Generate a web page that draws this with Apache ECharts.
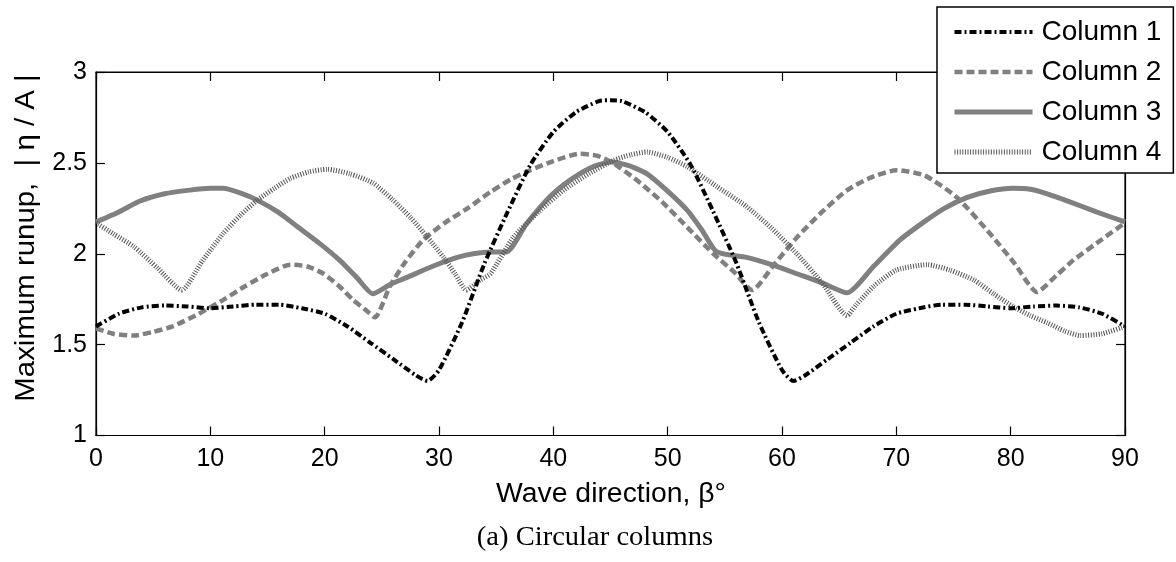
<!DOCTYPE html>
<html>
<head>
<meta charset="utf-8">
<script src="https://cdn.jsdelivr.net/npm/echarts@6/dist/echarts.min.js"></script>
<style>
html,body{margin:0;padding:0;background:#fff;}
#chart{width:1176px;height:562px;}
</style>
</head>
<body>
<div id="chart"></div>
<script>
// Data: [beta (deg), |eta/A|]
const seriesNames = ['Column 1', 'Column 2', 'Column 3', 'Column 4'];
const xTicks = [0, 10, 20, 30, 40, 50, 60, 70, 80, 90];
const yTicks = [1, 1.5, 2, 2.5, 3];

const column1 = [
  [0,1.60],[2,1.67],[4,1.705],[6,1.715],[8,1.71],[10,1.70],[12,1.71],[14,1.72],[16,1.72],
  [18,1.70],[20,1.67],[22,1.60],[24,1.51],[26,1.42],[28,1.33],[29,1.30],[30,1.36],[32,1.62],
  [34,1.95],[36,2.23],[38,2.49],[40,2.67],[42,2.78],[44,2.84],[45,2.845],[46,2.84],[48,2.78],
  [50,2.67],[52,2.49],[54,2.23],[56,1.95],[58,1.62],[60,1.36],[61,1.30],[62,1.33],[64,1.42],
  [66,1.51],[68,1.60],[70,1.67],[72,1.70],[74,1.72],[76,1.72],[78,1.71],[80,1.70],[82,1.71],
  [84,1.715],[86,1.705],[88,1.67],[90,1.60]
];
const column2 = [
  [0,1.59],[1.5,1.56],[3.3,1.55],[5,1.57],[6.7,1.60],[9,1.67],[11.1,1.745],[13,1.82],[15,1.89],
  [17,1.94],[18.5,1.93],[19.9,1.89],[21.3,1.82],[22.5,1.745],[23.6,1.69],[24.4,1.65],[25.7,1.82],
  [27,1.95],[28.6,2.075],[30.5,2.17],[32.5,2.25],[34.5,2.34],[36.3,2.41],[38,2.46],[40,2.51],
  [42.3,2.55],[43.8,2.54],[45.2,2.50],[47.4,2.40],[49.6,2.28],[51.8,2.14],[54,2.0],[55.8,1.90],
  [57.4,1.80],[59.3,1.94],[61.3,2.09],[63.5,2.23],[65.7,2.35],[67.8,2.42],[70,2.46],[72.5,2.43],
  [75.3,2.31],[78.2,2.11],[80.3,1.95],[82.3,1.79],[84,1.88],[85.5,1.965],[88,2.08],[90,2.17]
];
const column3 = [
  [0,2.175],[2,2.23],[3.85,2.29],[6,2.33],[8.2,2.35],[10,2.36],[11.1,2.36],[12.6,2.335],[14.1,2.295],
  [15.9,2.23],[17.6,2.15],[19.5,2.06],[21.3,1.965],[22.8,1.87],[24.2,1.78],[25.7,1.83],[27.2,1.87],
  [29.4,1.93],[31.6,1.98],[33,2.0],[34.5,2.01],[35.9,2.01],[37.6,2.16],[39.4,2.295],[40.9,2.38],
  [42.3,2.44],[43.7,2.485],[45.1,2.505],[46.6,2.485],[48.2,2.44],[49.9,2.35],[51.7,2.24],[53,2.13],
  [54.3,2.01],[56.9,1.98],[59.1,1.94],[61.3,1.89],[63.5,1.84],[65.7,1.785],[68,1.93],[70.3,2.075],
  [72.3,2.17],[74.2,2.25],[76.2,2.31],[78.2,2.345],[80.2,2.36],[81.7,2.355],[83.2,2.33],[85,2.29],
  [87.5,2.23],[90,2.175]
];
const column4 = [
  [0,2.17],[1.5,2.11],[3.3,2.04],[5.4,1.92],[7.5,1.80],[9.3,1.96],[11.1,2.11],[12.6,2.21],
  [14.1,2.295],[15.6,2.36],[17,2.415],[18.6,2.45],[20.2,2.465],[22.2,2.44],[24.2,2.39],[25.9,2.30],
  [27.5,2.20],[29,2.09],[30.4,1.98],[31.4,1.89],[32.4,1.80],[33.6,1.855],[34.5,1.89],[36.5,2.09],
  [38.7,2.23],[40.9,2.35],[43.1,2.44],[45.3,2.515],[46.8,2.545],[48.2,2.56],[50,2.53],[51.7,2.48],
  [54.3,2.37],[56.9,2.26],[59.1,2.14],[61.3,2.0],[63.5,1.84],[65.7,1.66],[66.5,1.72],[68,1.82],
  [70,1.91],[72.7,1.94],[74.7,1.91],[76.8,1.855],[78.5,1.78],[80.2,1.71],[81.7,1.66],[83.2,1.62],
  [84.7,1.575],[86.1,1.55],[88,1.56],[90,1.60]
];

const styles = [
  {color: '#000', width: 4, type: [7, 3, 2, 3]},
  {color: '#808080', width: 4.5, type: [8, 4]},
  {color: '#808080', width: 5, type: 'solid'},
  {color: '#555', width: 5, type: [1, 1.6]}
];

const chart = echarts.init(document.getElementById('chart'), null, {renderer: 'canvas'});
const tickFont = {fontFamily: 'Liberation Sans, Arial, sans-serif', fontSize: 25, color: '#000'};
const axisLineStyle = {color: '#000', width: 1.2};

const option = {
  backgroundColor: '#fff',
  animation: false,
  grid: {left: 96, right: 51, top: 72, bottom: 126.5, show: true, borderColor: '#000', borderWidth: 1.2, backgroundColor: 'transparent'},
  legend: {
    data: seriesNames.map((n, i) => ({name: n, lineStyle: Object.assign({}, styles[i])})),
    orient: 'vertical',
    left: 937, top: 7,
    padding: [11, 12, 7, 15],
    itemWidth: 78, itemHeight: 14, itemGap: 12,
    itemStyle: {opacity: 0},
    backgroundColor: '#fff',
    borderColor: '#000', borderWidth: 1.5,
    textStyle: {fontFamily: 'Liberation Sans, Arial, sans-serif', fontSize: 28, color: '#000', lineHeight: 28, padding: [0,0,0,4]},
    z: 10
  },
  xAxis: [{
    type: 'value', min: 0, max: 90, interval: 10,
    axisLine: {show: true, onZero: false, lineStyle: axisLineStyle},
    axisTick: {show: true, inside: true, length: 9, lineStyle: axisLineStyle},
    axisLabel: Object.assign({margin: 11, formatter: v => xTicks.includes(v) ? String(v) : ''}, tickFont),
    splitLine: {show: false}
  }, {
    type: 'value', min: 0, max: 90, interval: 10, position: 'top',
    axisLine: {show: true, onZero: false, lineStyle: axisLineStyle},
    axisTick: {show: true, inside: true, length: 9, lineStyle: axisLineStyle},
    axisLabel: {show: false}, splitLine: {show: false}
  }],
  yAxis: [{
    type: 'value', min: 1, max: 3, interval: 0.5,
    axisLine: {show: true, onZero: false, lineStyle: axisLineStyle},
    axisTick: {show: true, inside: true, length: 9, lineStyle: axisLineStyle},
    axisLabel: Object.assign({margin: 9, formatter: v => yTicks.includes(v) ? String(v) : ''}, tickFont),
    splitLine: {show: false}
  }, {
    type: 'value', min: 1, max: 3, interval: 0.5, position: 'right',
    axisLine: {show: true, onZero: false, lineStyle: axisLineStyle},
    axisTick: {show: true, inside: true, length: 9, lineStyle: axisLineStyle},
    axisLabel: {show: false}, splitLine: {show: false}
  }],
  graphic: [
    {type: 'text', x: 611, y: 495, scaleX: 1.05, style: {text: 'Wave direction, β°', font: '27px "Liberation Sans", Arial, sans-serif', fill: '#000', align: 'center', verticalAlign: 'middle'}},
    {type: 'text', x: 595, y: 538, scaleX: 1.02, style: {text: '(a) Circular columns', font: '28px "Liberation Serif", "DejaVu Serif", serif', fill: '#000', align: 'center', verticalAlign: 'middle'}},
    {type: 'text', x: 26, y: 238, rotation: Math.PI / 2, scaleX: 1.05, style: {text: 'Maximum runup,  | η / A |', font: '28px "Liberation Sans", Arial, sans-serif', fill: '#000', align: 'center', verticalAlign: 'middle'}}
  ],
  series: [
    {name: 'Column 1', type: 'line', data: column1, symbol: 'none', smooth: 0.2, lineStyle: styles[0], itemStyle: {color: styles[0].color}, z: 5},
    {name: 'Column 2', type: 'line', data: column2, symbol: 'none', smooth: 0.2, lineStyle: styles[1], itemStyle: {color: styles[1].color}, z: 3},
    {name: 'Column 3', type: 'line', data: column3, symbol: 'none', smooth: 0.2, lineStyle: styles[2], itemStyle: {color: styles[2].color}, z: 2},
    {name: 'Column 4', type: 'line', data: column4, symbol: 'none', smooth: 0.2, lineStyle: styles[3], itemStyle: {color: styles[3].color}, z: 4}
  ]
};
chart.setOption(option);
</script>
</body>
</html>
